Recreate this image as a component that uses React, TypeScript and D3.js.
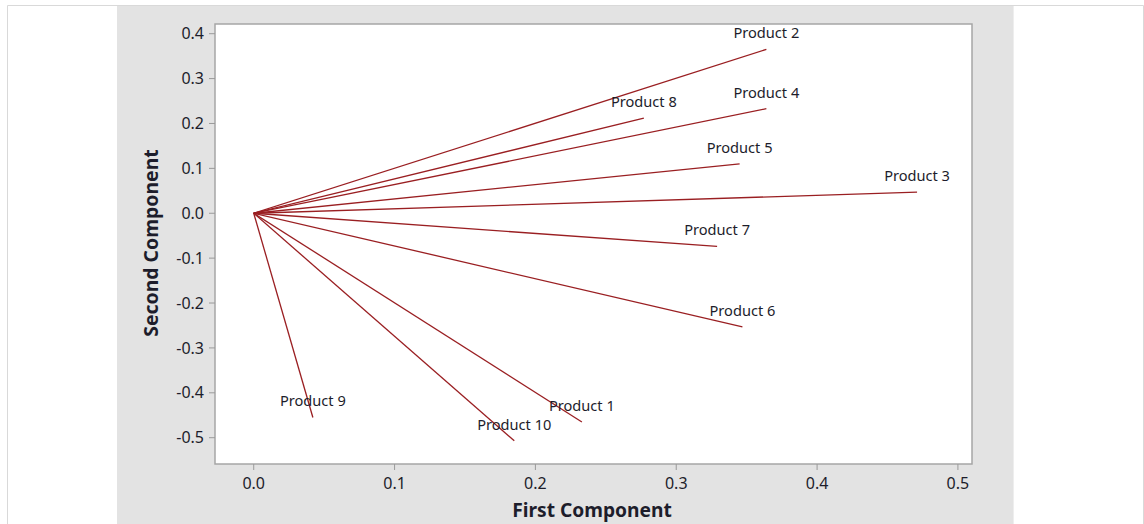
import React from 'react';
import {scaleLinear, range} from 'd3';

const products = ['Product 1', 'Product 2', 'Product 3', 'Product 4', 'Product 5',
  'Product 6', 'Product 7', 'Product 8', 'Product 9', 'Product 10'];
const firstComponent = [0.233, 0.364, 0.471, 0.364, 0.345, 0.347, 0.329, 0.277, 0.042, 0.185];
const secondComponent = [-0.465, 0.365, 0.047, 0.233, 0.110, -0.253, -0.074, 0.212, -0.455, -0.507];
const xTicks = [0.0, 0.1, 0.2, 0.3, 0.4, 0.5];
const yTicks = [0.4, 0.3, 0.2, 0.1, 0.0, -0.1, -0.2, -0.3, -0.4, -0.5];

const width = 1144;
const height = 524;
const plot = {left: 215, right: 972, top: 24, bottom: 464};

const font = '"Noto Sans", "Open Sans", sans-serif';
const textColor = '#1d1d2b';
const lineColor = '#9a1f22';

const fmt = (v: number) => (Math.abs(v) < 1e-9 ? '0.0' : v.toFixed(1));

export default function App() {
  const xScale = scaleLinear().domain([-0.0275, 0.51]).range([plot.left, plot.right]);
  const yScale = scaleLinear().domain([-0.5586, 0.4216]).range([plot.bottom, plot.top]);
  const data = range(products.length).map((i) => ({
    name: products[i],
    x: firstComponent[i],
    y: secondComponent[i],
  }));

  return (
    <div style={{position: 'fixed', left: 0, top: 0}}>
      <svg width={width} height={height} style={{display: 'block', fontFamily: font}}>
        <rect x={0} y={0} width={width} height={height} fill="#fff" />
        {/* outer frame */}
        <path d={`M7.5,${height} V5.5 H${width - 0.5} V${height}`} fill="none" stroke="#d9d9d9" />
        {/* gray panel */}
        <rect x={117} y={6} width={897} height={height - 6} fill="#e3e3e3" />
        <line x1={1013.5} y1={6} x2={1013.5} y2={height} stroke="#eeeeee" />
        {/* plot area */}
        <rect
          x={plot.left}
          y={plot.top}
          width={plot.right - plot.left}
          height={plot.bottom - plot.top}
          fill="#fff"
          stroke="#a6a6a6"
          strokeWidth={1.5}
        />
        {/* y axis */}
        {yTicks.map((t) => (
          <g key={t} transform={`translate(0, ${yScale(t)})`}>
            <line x1={plot.left - 6} x2={plot.left} stroke="#9a9a9a" />
            <text x={plot.left - 11} dy="0.35em" textAnchor="end" fontSize={16} fill={textColor}>
              {fmt(t)}
            </text>
          </g>
        ))}
        {/* x axis */}
        {xTicks.map((t) => (
          <g key={t} transform={`translate(${xScale(t)}, 0)`}>
            <line y1={plot.bottom} y2={plot.bottom + 6} stroke="#9a9a9a" />
            <text y={489} textAnchor="middle" fontSize={16} fill={textColor}>
              {fmt(t)}
            </text>
          </g>
        ))}
        <text x={592} y={517} textAnchor="middle" fontSize={19.2} fontWeight="bold" fill={textColor}>
          First Component
        </text>
        <text
          transform="translate(158, 243) rotate(-90)"
          textAnchor="middle"
          fontSize={19.4}
          fontWeight="bold"
          fill={textColor}
        >
          Second Component
        </text>
        {/* loading vectors */}
        {data.map((d) => (
          <g key={d.name}>
            <line
              x1={xScale(0)}
              y1={yScale(0)}
              x2={xScale(d.x)}
              y2={yScale(d.y)}
              stroke={lineColor}
              strokeWidth={1.3}
            />
            <text
              x={xScale(d.x)}
              y={yScale(d.y) - 11}
              textAnchor="middle"
              fontSize={14.6}
              fill={textColor}
            >
              {d.name}
            </text>
          </g>
        ))}
      </svg>
    </div>
  );
}
